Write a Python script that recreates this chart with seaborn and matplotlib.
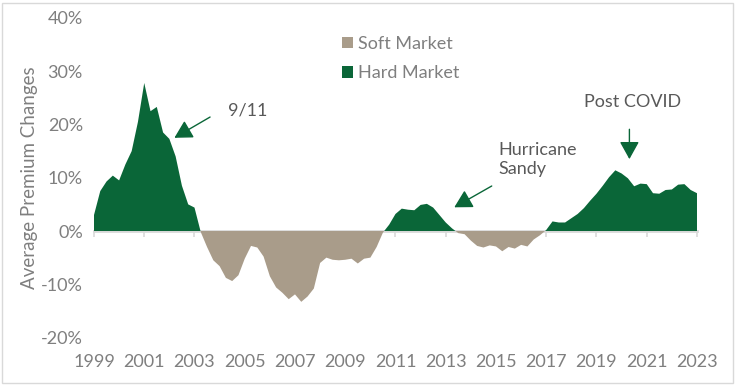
import numpy as np
import pandas as pd
import seaborn as sns
import matplotlib.pyplot as plt
from matplotlib.patches import Rectangle

# quarterly average premium change (%), 1999 Q1 .. 2023 Q1
premium_change = [
    3.0, 7.5, 9.3, 10.4, 9.5, 12.5, 15.0, 20.5, 27.8, 22.5, 23.3, 18.5, 17.3, 14.0, 8.5, 5.0,
    4.4, -0.2, -3.0, -5.5, -6.6, -8.8, -9.4, -8.3, -5.2, -2.8, -3.1, -4.8, -8.5, -10.6, -11.6, -12.8,
    -11.9, -13.3, -12.3, -10.8, -6.0, -5.0, -5.4, -5.5, -5.4, -5.2, -6.1, -5.2, -5.0, -3.0, -0.3, 1.2,
    3.2, 4.2, 4.0, 3.9, 4.9, 5.1, 4.4, 3.0, 1.6, 0.5, -0.4, -0.6, -1.8, -2.8, -3.1, -2.7,
    -2.9, -3.8, -3.0, -3.3, -2.6, -2.9, -1.6, -0.8, 0.2, 1.8, 1.6, 1.6, 2.4, 3.2, 4.3, 5.7,
    7.0, 8.5, 10.1, 11.4, 10.8, 9.9, 8.4, 8.9, 8.8, 7.1, 7.0, 7.7, 7.8, 8.7, 8.8, 7.7,
    7.1,
]
quarters = 1999 + np.arange(len(premium_change)) / 4
year_ticks = list(range(1999, 2024, 2))
pct_ticks = [-20, -10, 0, 10, 20, 30, 40]

green = '#0a6638'
tan = '#a99c8a'
grey_text = '#7f7f7f'
note_text = '#595959'

df = pd.DataFrame({'year': quarters, 'change': premium_change})

sns.set_theme(style='white')
plt.rcParams['font.family'] = ['Lato', 'DejaVu Sans']

fig = plt.figure(figsize=(7.36, 3.86), dpi=100)
ax = fig.add_axes([0.1277, 0.1256, 0.8193, 0.8278])

sns.lineplot(data=df, x='year', y='change', ax=ax, linewidth=0, legend=False)
y = df['change'].to_numpy()
ax.fill_between(df['year'], 0, y, where=y <= 0, interpolate=True,
                color=tan, linewidth=0, label='Soft Market')
ax.fill_between(df['year'], 0, y, where=y >= 0, interpolate=True,
                color=green, linewidth=0, label='Hard Market')

ax.set_xlim(1999, 2023)
ax.set_ylim(-20, 40)
ax.set_yticks(pct_ticks)
ax.set_yticklabels([f'{v}%' for v in pct_ticks])
ax.set_xticks(year_ticks)
ax.set_xticklabels([str(v) for v in year_ticks])
ax.tick_params(axis='both', length=0, labelsize=13, colors=grey_text)
ax.tick_params(axis='x', pad=12)
ax.tick_params(axis='y', pad=8)
for s in ax.spines.values():
    s.set_visible(False)
ax.set_xlabel('')
ax.set_ylabel('Average Premium Changes', fontsize=13.5, color=grey_text, labelpad=2)

# zero line with tick marks
zero_axis = ax.secondary_xaxis(1 / 3)
zero_axis.set_xticks(year_ticks)
zero_axis.tick_params(axis='x', length=4, width=1.2, color='#d9d9d9', labelbottom=False, labeltop=False)
zero_axis.spines['bottom'].set_color('#d9d9d9')
zero_axis.spines['bottom'].set_linewidth(2)

ax.legend(loc='upper left', bbox_to_anchor=(0.385, 0.995), frameon=False, fontsize=13,
          handlelength=0.6, handleheight=0.6, handletextpad=0.25, labelspacing=0.75,
          labelcolor=grey_text)

arrow = dict(arrowstyle='-|>,head_length=0.9,head_width=0.5', color=green, lw=1.0,
             shrinkA=0, shrinkB=0)
ax.annotate('', xy=(2002.2, 17.5), xytext=(2003.62, 21.4), arrowprops=arrow)
ax.text(2005.1, 22.6, '9/11', fontsize=13, color=note_text, ha='center', va='center')

ax.annotate('', xy=(2013.34, 4.45), xytext=(2014.83, 8.45), arrowprops=arrow)
ax.text(2015.1, 13.4, 'Hurricane\nSandy', fontsize=13, color=note_text, ha='left', va='center',
        linespacing=1.25)

ax.annotate('', xy=(2020.31, 13.5), xytext=(2020.31, 19.1), arrowprops=arrow)
ax.text(2020.45, 24.3, 'Post COVID', fontsize=13, color=note_text, ha='center', va='center')

fig.patches.append(Rectangle((0.003, 0.008), 0.993, 0.985, transform=fig.transFigure,
                             fill=False, edgecolor='#d9d9d9', linewidth=1))

fig.savefig('out.png', dpi=100)
